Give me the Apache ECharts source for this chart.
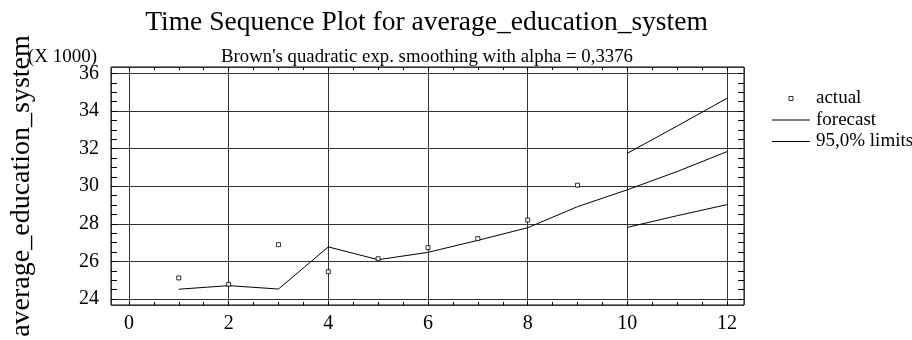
<!DOCTYPE html>
<html>
<head>
<meta charset="utf-8">
<script src="https://cdn.jsdelivr.net/npm/echarts@6/dist/echarts.min.js"></script>
<style>
  html, body { margin: 0; padding: 0; background: #fff; }
  #chart { width: 912px; height: 340px; }
</style>
</head>
<body>
<div id="chart"></div>
<script>
// Time periods and observed values (in thousands)
const actualPeriods = [1, 2, 3, 4, 5, 6, 7, 8, 9];
const actualValues = [25.12, 24.78, 26.89, 25.45, 26.14, 26.73, 27.21, 28.20, 30.05];

// Brown's quadratic smoothing: fitted values and forecasts
const forecastPeriods = [1, 2, 3, 4, 5, 6, 7, 8, 9, 10, 11, 12];
const forecastValues = [24.52, 24.71, 24.53, 26.77, 26.09, 26.48, 27.12, 27.79, 28.91, 29.81, 30.78, 31.84];

// 95% prediction limits for the forecast horizon
const limitPeriods = [10, 11, 12];
const upperLimits = [31.75, 33.20, 34.68];
const lowerLimits = [27.81, 28.43, 29.02];

// Labelled ticks and the finer tick marks along the frame
const xTickLabels = [0, 2, 4, 6, 8, 10, 12];
const yTickLabels = [24, 26, 28, 30, 32, 34, 36];
const xMinorTicks = [0, 0.5, 1, 1.5, 2, 2.5, 3, 3.5, 4, 4.5, 5, 5.5, 6, 6.5, 7, 7.5, 8, 8.5, 9, 9.5, 10, 10.5, 11, 11.5, 12];
const yMinorTicks = [24, 24.5, 25, 25.5, 26, 26.5, 27, 27.5, 28, 28.5, 29, 29.5, 30, 30.5, 31, 31.5, 32, 32.5, 33, 33.5, 34, 34.5, 35, 35.5, 36];

const SERIF = '"Liberation Serif", "Times New Roman", serif';
const pairs = (xs, ys) => xs.map((x, i) => [x, ys[i]]);

const X_RANGE = { min: -0.36, max: 12.34 };
const Y_RANGE = { min: 23.68, max: 36.34 };

const chart = echarts.init(document.getElementById('chart'), null, { renderer: 'canvas' });

// Axis that only draws the tick marks (and optionally labels) on one side of the frame
function frameAxis(position, range, ticks, tickLen, labels, labelMargin) {
  return {
    gridIndex: 0, type: 'value', position: position,
    min: range.min, max: range.max,
    axisLine: { show: false, onZero: false },
    splitLine: { show: false },
    axisTick: { show: true, inside: true, length: tickLen, customValues: ticks,
      lineStyle: { color: '#000', width: 1 } },
    axisLabel: labels ? {
      show: true, customValues: labels, margin: labelMargin,
      fontFamily: SERIF, fontSize: 20, color: '#000'
    } : { show: false }
  };
}

const gridLineStyle = { show: true, lineStyle: { color: '#333', width: 1 } };

chart.setOption({
  animation: false,
  backgroundColor: '#ffffff',
  title: [
    {
      text: 'Time Sequence Plot for average_education_system',
      left: 421.5, top: 4, textAlign: 'center',
      textStyle: { fontFamily: SERIF, fontSize: 27.5, fontWeight: 'normal', color: '#000' }
    },
    {
      text: "Brown's quadratic exp. smoothing with alpha = 0,3376",
      left: 422, top: 43, textAlign: 'center',
      textStyle: { fontFamily: SERIF, fontSize: 18.8, fontWeight: 'normal', color: '#000' }
    }
  ],
  legend: {
    orient: 'vertical',
    left: 767, top: 84,
    itemWidth: 38, itemHeight: 4, itemGap: 2.5,
    selectedMode: false,
    textStyle: { fontFamily: SERIF, fontSize: 19, color: '#000', padding: [0, 0, 0, 1] },
    data: [
      { name: 'actual', icon: 'path://M0,0h4v4h-4z',
        itemStyle: { color: '#fff', borderColor: '#000', borderWidth: 1 } },
      { name: 'forecast', icon: 'path://M0,0h38v1h-38z',
        itemStyle: { color: '#000', borderWidth: 0 } },
      { name: '95,0% limits', icon: 'path://M0,0h38v1h-38z',
        itemStyle: { color: '#000', borderWidth: 0 } }
    ]
  },
  graphic: [
    {
      type: 'text', x: 97, y: 57,
      style: {
        text: '(X 1000)', fill: '#000',
        font: '19px ' + SERIF, textAlign: 'right', textVerticalAlign: 'middle'
      }
    }
  ],
  grid: [
    { left: 109, right: 168, top: 67, bottom: 35, show: true,
      borderColor: '#000', borderWidth: 1, backgroundColor: 'transparent' }
  ],
  xAxis: [
    {
      gridIndex: 0, type: 'value', min: X_RANGE.min, max: X_RANGE.max, splitNumber: 6,
      axisLine: { show: false, onZero: false }, axisTick: { show: false }, axisLabel: { show: false },
      splitLine: gridLineStyle
    },
    frameAxis('bottom', X_RANGE, xMinorTicks, 3, xTickLabels, 9),
    frameAxis('top', X_RANGE, xMinorTicks, 3, null, 0)
  ],
  yAxis: [
    {
      gridIndex: 0, type: 'value', min: Y_RANGE.min, max: Y_RANGE.max, splitNumber: 6,
      axisLine: { show: false, onZero: false }, axisTick: { show: false }, axisLabel: { show: false },
      splitLine: gridLineStyle,
      name: 'average_education_system', nameLocation: 'middle', nameGap: 75, nameRotate: 90,
      nameTextStyle: { fontFamily: SERIF, fontSize: 28, color: '#000' }
    },
    frameAxis('left', Y_RANGE, yMinorTicks, 6, yTickLabels, 12),
    frameAxis('right', Y_RANGE, yMinorTicks, 6, null, 0)
  ],
  series: [
    {
      name: 'forecast', type: 'line', xAxisIndex: 0, yAxisIndex: 0,
      data: pairs(forecastPeriods, forecastValues),
      showSymbol: false, symbol: 'none', color: '#000',
      lineStyle: { color: '#000', width: 1 }, z: 3
    },
    {
      name: '95,0% limits', type: 'line', xAxisIndex: 0, yAxisIndex: 0,
      data: pairs(limitPeriods, upperLimits),
      showSymbol: false, symbol: 'none', color: '#000',
      lineStyle: { color: '#000', width: 1 }, z: 3
    },
    {
      name: '95,0% limits', type: 'line', xAxisIndex: 0, yAxisIndex: 0,
      data: pairs(limitPeriods, lowerLimits),
      showSymbol: false, symbol: 'none', color: '#000',
      lineStyle: { color: '#000', width: 1 }, z: 3
    },
    {
      name: 'actual', type: 'scatter', xAxisIndex: 0, yAxisIndex: 0,
      data: pairs(actualPeriods, actualValues),
      symbol: 'rect', symbolSize: 4,
      itemStyle: { color: '#fff', borderColor: '#000', borderWidth: 1 }, z: 4
    }
  ]
});
</script>
</body>
</html>
